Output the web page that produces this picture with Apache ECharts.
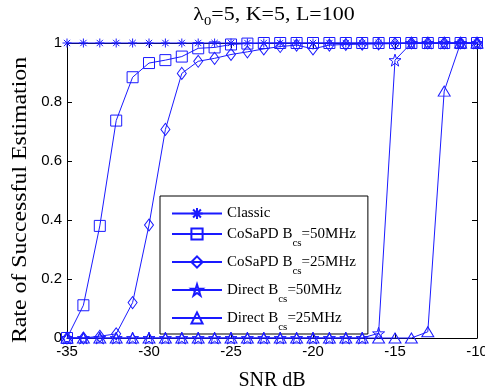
<!DOCTYPE html>
<html><head><meta charset="utf-8">
<script src="https://cdn.jsdelivr.net/npm/echarts@6/dist/echarts.min.js"></script>
<style>html,body{margin:0;padding:0;background:#fff}#c{width:485px;height:389px}</style>
</head><body><div id="c"></div>
<script>
const snr = [-35,-34,-33,-32,-31,-30,-29,-28,-27,-26,-25,-24,-23,-22,-21,-20,-19,-18,-17,-16,-15,-14,-13,-12,-11,-10];
const classic = [1,1,1,1,1,1,1,1,1,1,1,1,1,1,1,1,1,1,1,1,1,1,1,1,1,1];
const cosapd50 = [0,0.111,0.38,0.737,0.884,0.932,0.942,0.954,0.982,0.985,0.995,0.998,1,1,1,1,1,1,1,1,1,1,1,1,1,1];
const cosapd25 = [0,0,0.006,0.014,0.12,0.383,0.707,0.897,0.938,0.948,0.961,0.97,0.98,0.988,0.993,0.98,0.993,0.995,0.996,0.997,0.998,1,1,1,1,1];
const direct50 = [0,0,0,0,0,0,0,0,0,0,0,0,0,0,0,0,0,0,0,0.016,0.942,1,1,1,1,1];
const direct25 = [0,0,0,0,0,0,0,0,0,0,0,0,0,0,0,0,0,0,0,0,0,0,0.021,0.837,1,1];
const seriesNames = ['Classic','CoSaPD B_cs=50MHz','CoSaPD B_cs=25MHz','Direct B_cs=50MHz','Direct B_cs=25MHz'];
const xTickLabels = {'-35':'-35','-30':'-30','-25':'-25','-20':'-20','-15':'-15','-10':'-10'};
const yTickLabels = {'0':'0','0.2':'0.2','0.4':'0.4','0.6':'0.6','0.8':'0.8','1':'1'};
const titleText = 'λ{s|0}=5, K=5, L=100';
const yName = 'Rate of Successful Estimation';
const xName = 'SNR dB';

const BLUE = '#1a1aff';
const SERIF = '"Liberation Serif","Times New Roman",serif';
const SANS = '"Liberation Sans",Arial,sans-serif';
const symAsterisk = 'path://M0,-10L0,10M-10,0L10,0M-7,-7L7,7M-7,7L7,-7';
const symStar = 'path://M0,-100L22.5,-30.9L95.1,-30.9L36.3,11.8L58.8,80.9L0,38.2L-58.8,80.9L-36.3,11.8L-95.1,-30.9L-22.5,-30.9Z';
const symbols = [symAsterisk,'rect','diamond',symStar,'triangle'];
const sizes = [9,11,[9,12],12,[12,10]];
const values = [classic,cosapd50,cosapd25,direct50,direct25];

const series = values.map((v,i)=>({
  name: seriesNames[i], type:'line', data: snr.map((x,j)=>[x,v[j]]),
  symbol: symbols[i], symbolSize: sizes[i], showSymbol:true, clip:false,
  lineStyle:{color:BLUE,width:1},
  itemStyle:{color:'transparent',borderColor:BLUE,borderWidth:1},
  emphasis:{disabled:true}, z: 2+i
}));

function mkAxis(pos, labels, main, margin){
  return {
    type:'value', position:pos,
    axisLine:{show:true,onZero:false,lineStyle:{color:'#000',width:1}},
    axisTick:{show:true,inside:true,length:5,lineStyle:{color:'#000',width:1}},
    axisLabel:{show:main,color:'#000',fontSize:15,fontFamily:SANS,margin:margin,
      formatter:v=>{const k=String(+v.toFixed(1));return labels[k]!==undefined?labels[k]:'';}},
    splitLine:{show:false}
  };
}
const xCommon = {min:-35,max:-10,interval:5};
const yCommon = {min:0,max:1,interval:0.2};

const chart = echarts.init(document.getElementById('c'),null,{renderer:'canvas'});
chart.setOption({
  animation:false,
  backgroundColor:'#fff',
  grid:{left:67,right:8,top:43,bottom:51,outerBoundsMode:'none',containLabel:false},
  xAxis:[
    Object.assign(mkAxis('bottom',xTickLabels,true,6),{name:xName,nameLocation:'middle',nameGap:33,
      nameTextStyle:{fontFamily:SERIF,fontSize:20,color:'#000'}},xCommon),
    Object.assign(mkAxis('top',xTickLabels,false,6),xCommon)
  ],
  yAxis:[
    Object.assign(mkAxis('left',yTickLabels,true,5),yCommon),
    Object.assign(mkAxis('right',yTickLabels,false,5),yCommon)
  ],
  legend:{
    orient:'vertical', left:160, top:196,
    padding:[10,12,1,11], itemGap:5.5, itemWidth:50, itemHeight:14,
    backgroundColor:'#fff', borderColor:'#000', borderWidth:1, borderRadius:0,
    data: seriesNames,
    formatter: function(name){
      const i = name.indexOf('_cs');
      if(i<0) return '{c|'+name+'}';
      return '{n|'+name.slice(0,i)+'}{s|cs}{n|'+name.slice(i+3)+'}';
    },
    textStyle:{color:'#000',fontFamily:SERIF,fontSize:15,
      rich:{
        c:{fontFamily:SERIF,fontSize:15,lineHeight:20,color:'#000'},
        n:{fontFamily:SERIF,fontSize:15,lineHeight:30,color:'#000'},
        s:{fontFamily:SERIF,fontSize:11,lineHeight:12,verticalAlign:'bottom',color:'#000'}
      }}
  },
  graphic:[
    {type:'text', x:274, y:15, scaleX:1.22, silent:true,
     style:{text:titleText, fontFamily:SERIF, fontSize:18, fill:'#000', align:'center', verticalAlign:'middle',
       rich:{s:{fontFamily:SERIF,fontSize:12,lineHeight:12,padding:[14,0,0,0],fill:'#000'}}}},
    {type:'text', x:21, y:200, rotation:Math.PI/2, scaleX:1.19, silent:true,
     style:{text:yName, fontFamily:SERIF, fontSize:20, fill:'#000', align:'center', verticalAlign:'middle'}}
  ],
  series: series
});
</script></body></html>
